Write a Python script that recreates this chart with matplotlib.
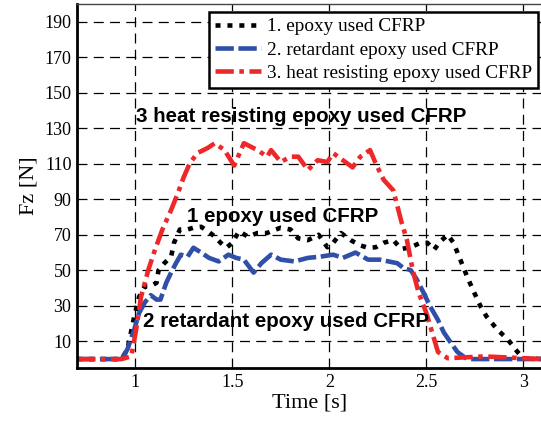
import matplotlib
matplotlib.use("Agg")
import matplotlib.pyplot as plt

# ---- data ----
t_epoxy = [0.70, 0.93, 0.96, 0.995, 1.02, 1.05, 1.08, 1.11, 1.12, 1.15, 1.185, 1.20, 1.23, 1.27, 1.30,
           1.34, 1.375, 1.41, 1.44, 1.47, 1.50, 1.535, 1.58, 1.63, 1.68, 1.70, 1.75, 1.80, 1.84,
           1.89, 1.945, 1.99, 2.02, 2.06, 2.11, 2.16, 2.20, 2.24, 2.28, 2.33, 2.37, 2.42, 2.47,
           2.505, 2.54, 2.57, 2.61, 2.64, 2.675, 2.71, 2.74, 2.78, 2.81, 2.865, 2.92, 2.97, 3.00, 3.10]
f_epoxy = [0, 0, 5.5, 24, 35, 41, 41, 43, 50, 54, 57.7, 65.5, 73, 73, 74,
           74.5, 72, 69, 65.5, 62.7, 65.5, 72, 69, 71, 71, 72, 74, 73, 68,
           67, 70, 63, 65.5, 71, 67, 64, 62.7, 63, 65.5, 67, 62, 63, 65.5,
           65.5, 61.6, 66, 70, 65.5, 56, 46.5, 39, 29.6, 24, 16.7, 11, 4, 0.5, 0]

t_retard = [0.70, 0.93, 0.96, 0.995, 1.02, 1.05, 1.08, 1.11, 1.13, 1.16, 1.185, 1.21, 1.235, 1.27,
            1.30, 1.34, 1.38, 1.43, 1.48, 1.52, 1.56, 1.61, 1.65, 1.70, 1.75, 1.82, 1.89, 1.955,
            2.02, 2.07, 2.135, 2.20, 2.26, 2.35, 2.38, 2.42, 2.45, 2.485, 2.52, 2.56, 2.59, 2.625,
            2.66, 2.71, 3.10]
f_retard = [0, 0, 5.5, 16.7, 26, 32, 36, 33.5, 33.5, 43, 48.7, 54, 58.8, 57.7,
            62.7, 60, 57, 55, 58.8, 57, 56, 48.7, 54, 58.8, 56, 55, 57, 57.7,
            58.8, 57, 60, 56, 56, 54, 51.5, 50, 45, 37.5, 29.6, 22, 15, 9.4,
            4, 0, 0]

t_heat = [0.70, 0.93, 0.98, 1.005, 1.03, 1.067, 1.10, 1.14, 1.185, 1.22, 1.25, 1.28, 1.32, 1.375,
          1.41, 1.46, 1.51, 1.56, 1.63, 1.68, 1.70, 1.75, 1.80, 1.84, 1.89, 1.94, 1.99, 2.02,
          2.07, 2.12, 2.16, 2.21, 2.24, 2.28, 2.33, 2.37, 2.40, 2.43, 2.46, 2.50, 2.53, 2.56,
          2.61, 2.80, 3.10]
f_heat = [0, 0, 1.6, 16.7, 35, 50, 61, 73, 84, 93.5, 102.5, 110, 116, 119,
          121.6, 117.7, 109, 121.6, 117.7, 114, 117.7, 111, 114, 114, 106.5, 112, 111, 116,
          112, 108, 114, 117.7, 110, 101, 95, 78, 67, 50, 37.5, 26, 15, 4,
          0.5, 1.5, 0]

labels = ["1. epoxy used CFRP", "2. retardant epoxy used CFRP", "3. heat resisting epoxy used CFRP"]
annotations = ["3 heat resisting epoxy used CFRP", "1 epoxy used CFRP", "2 retardant epoxy used CFRP"]
annot_pos = [(1.005, 136.5), (1.267, 80.5), (1.04, 21)]
xticks = [1, 1.5, 2, 2.5, 3]
yticks = [10, 30, 50, 70, 90, 110, 130, 150, 170, 190]

serif = ["Liberation Serif", "DejaVu Serif"]

fig = plt.figure(figsize=(5.41, 4.21), dpi=100)
ax = fig.add_axes([0.1423, 0.126, 0.861, 0.8645])

ax.plot(t_epoxy, f_epoxy, color="black", lw=3.3, ls=(0, (1.1, 1.5)), label=labels[0])
ax.plot(t_retard, f_retard, color="#2f4fa8", lw=3.3, ls=(0, (4.0, 1.0)), label=labels[1])
ax.plot(t_heat, f_heat, color="#ee2828", lw=3.3, ls=(0, (4.0, 1.2, 1.0, 1.2)), label=labels[2])

ax.set_xlim(0.7, 3.1)
ax.set_ylim(-5, 200)
ax.set_xticks(xticks)
ax.set_xticklabels(["1", "1.5", "2", "2.5", "3"])
ax.set_yticks(yticks)
ax.grid(True, color="black", ls=(0, (8, 5)), lw=0.9)
ax.tick_params(axis="both", length=0, labelsize=13, pad=4)
for lab in ax.get_xticklabels() + ax.get_yticklabels():
    lab.set_family(serif)

for s in ["left", "bottom"]:
    ax.spines[s].set_linewidth(2.0)
ax.spines["top"].set_linewidth(1.0)
ax.spines["top"].set_color("#444444")
ax.spines["right"].set_visible(False)

ax.set_xlabel("Time [s]", fontsize=16, family=serif, labelpad=2)
ax.set_ylabel("Fz [N]", fontsize=16, family=serif, labelpad=4)

for txt, (x, y) in zip(annotations, annot_pos):
    ax.text(x, y, txt, fontsize=14.8, fontweight="bold", family=["Liberation Sans", "DejaVu Sans"],
            ha="left", va="center")

leg = ax.legend(loc="upper right", bbox_to_anchor=(0.990, 0.978), borderaxespad=0,
                prop={"family": serif, "size": 13.9},
                frameon=True, fancybox=False, framealpha=1, edgecolor="black",
                handlelength=2.4, handletextpad=0.3, borderpad=0.3, labelspacing=0.3)
leg.get_frame().set_linewidth(1.8)

fig.savefig("out.png", dpi=100)
